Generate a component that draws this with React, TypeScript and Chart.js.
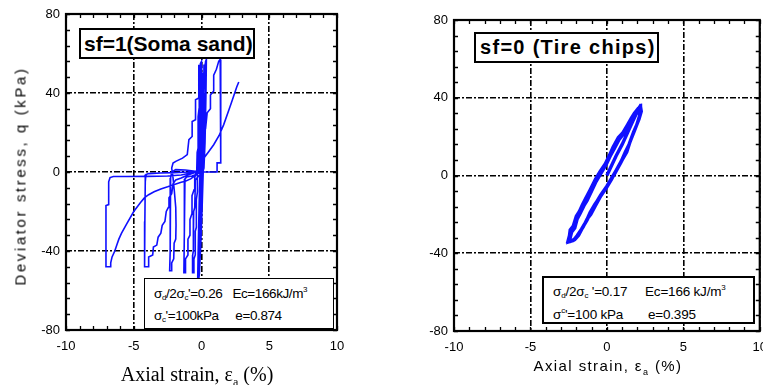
import React, { useEffect, useRef } from 'react';
import { Chart, registerables } from 'chart.js';
Chart.register(...registerables);

// ---- axis ticks ----
const xTickValues = [-10, -5, 0, 5, 10];
const yTickValues = [-80, -40, 0, 40, 80];

// ---- sf=1 (Soma sand): strain (%), deviator stress (kPa), in test order ----
const sandCycles1 = [
  [0, 0], [0.02, 18], [0.06, 38], [0.12, 50], [0.18, 54], [0.2, 54], [0.16, 35], [0.08, 10], [0, -10],
  [-0.08, -30], [-0.15, -46], [-0.22, -53], [-0.28, -54], [-0.24, -38], [-0.16, -12], [-0.06, 12],
  [0.06, 35], [0.18, 50], [0.28, 55], [0.32, 56], [0.28, 38], [0.18, 12], [0.06, -15], [-0.06, -38],
  [-0.16, -52], [-0.22, -55], [-0.18, -35], [-0.08, -5], [0.05, 22], [0.18, 45], [0.3, 56], [0.36, 57],
  [0.33, 40], [0.26, 15], [0.18, 2],
];
const sandCycle2 = [
  [0.05, -1], [-0.2, -2], [-0.45, -4], [-0.5, -18], [-0.58, -20], [-0.6, -40], [-0.65, -42], [-0.66, -51],
  [-0.56, -51], [-0.56, -44], [-0.46, -42], [-0.46, -30], [-0.38, -28], [-0.38, -14], [-0.3, -10],
  [-0.3, 2], [-0.22, 6], [-0.18, 25], [-0.12, 42], [-0.04, 52], [0.02, 54], [0.0, 40], [-0.05, 15], [-0.1, 0],
];
const sandCycle3 = [
  [-0.3, -1], [-0.7, -2], [-1.1, -2.5], [-1.22, -3.5], [-1.25, -10], [-1.28, -30], [-1.3, -51],
  [-1.18, -51], [-1.18, -44], [-1.0, -42], [-1.0, -34], [-0.85, -32], [-0.85, -24], [-0.7, -21],
  [-0.7, -12], [-0.55, -9], [-0.5, -3], [-0.35, 1], [-0.32, 10], [-0.25, 12], [-0.25, 28], [-0.18, 32],
  [-0.14, 48], [-0.08, 55], [0.0, 56], [-0.02, 40], [-0.06, 10], [-0.12, 0],
];
const sandCycle4 = [
  [-0.6, 0.5], [-1.2, 1], [-1.9, 1.2], [-2.2, 0], [-2.28, -3], [-2.3, -20], [-2.32, -40], [-2.35, -50],
  [-2.22, -50], [-2.2, -46], [-2.05, -44], [-2.02, -36], [-1.9, -34], [-1.88, -27], [-1.9, -18],
  [-2.0, -10], [-2.1, -3], [-2.2, 2], [-2.1, 4.5], [-1.9, 5.4], [-1.4, 7], [-1.05, 8.8], [-0.93, 16.4],
  [-0.69, 18], [-0.69, 25.6], [-0.44, 26.5], [-0.44, 36.6], [-0.2, 37.5], [-0.2, 54.3],
  [-0.17, 40], [-0.15, 15], [-0.2, 0.5],
];
const sandCycle5 = [
  [-1.0, 0], [-2.0, -0.3], [-3.0, -0.5], [-3.9, -0.8], [-4.1, -1.3], [-4.15, -5], [-4.18, -25],
  [-4.2, -48], [-3.9, -48], [-3.9, -43], [-3.6, -42], [-3.55, -38], [-3.3, -37], [-3.2, -33], [-3.0, -31],
  [-2.9, -27], [-2.7, -25], [-2.6, -20], [-2.45, -18], [-2.4, -13], [-2.2, -11], [-2.1, -6], [-1.9, -4],
  [-1.5, -3], [-1.0, -1.5], [-0.4, 0], [-0.1, 4], [0.1, 12], [0.17, 18.9], [0.3, 22], [0.42, 30],
  [0.66, 32], [0.66, 39], [0.9, 41], [0.9, 49], [1.1, 52], [1.27, 56], [1.38, 57], [1.42, 57],
  [1.42, 40], [1.42, 20], [1.42, 4.6], [1.15, 4.6], [1.15, 0],
];
const sandCycle6 = [
  [0.5, 0], [-0.2, 0], [-0.8, -0.5], [-1.5, -1.5], [-2.5, -2], [-4, -2.2], [-5.5, -2.3], [-6.5, -2.3],
  [-6.75, -2.8], [-6.85, -5], [-6.85, -16.5], [-7.05, -17], [-7.05, -48], [-6.75, -48],
];
const sandFinalLoading = [
  [-6.7, -46], [-6.6, -43], [-6.4, -40], [-6.25, -37], [-6.1, -34], [-5.9, -31], [-5.5, -26], [-5, -20],
  [-4.5, -15.5], [-4.2, -13], [-3.9, -11.5], [-3.5, -10], [-3, -8.6], [-2.5, -7.5], [-2, -6.3],
  [-1.5, -5.2], [-1.2, -4.7], [-0.8, -3.5], [-0.4, -1.5], [0, 2], [0.17, 7], [0.5, 10], [0.9, 13.8],
  [1.3, 18.5], [1.64, 24], [2.0, 31], [2.25, 36], [2.45, 40], [2.6, 43], [2.75, 45.6],
];

// ---- sf=0 (Tire chips) ----
const tireCycle1 = [
  [0, 0], [0.3, 5], [0.6, 10], [1.0, 16], [1.35, 22], [1.7, 28], [2.0, 33], [2.15, 35], [2.2, 35.3],
  [2.2, 32], [2.0, 27], [1.8, 23], [1.5, 17], [1.3, 12], [1.0, 8], [0.6, 2.5], [0.3, -1.5], [0.0, -5.5],
  [-0.4, -10], [-0.7, -14], [-1.0, -18], [-1.3, -23], [-1.6, -27], [-1.85, -30.7], [-2.1, -33],
  [-2.4, -34], [-2.55, -34],
];
const tireCycle2 = [
  [-2.45, -31], [-2.4, -28], [-2.2, -26], [-2.0, -21], [-1.8, -18.5], [-1.6, -15], [-1.4, -12],
  [-1.1, -7.5], [-0.75, -2], [-0.45, 2], [-0.1, 6], [0.2, 11], [0.4, 14.5], [0.75, 19.5], [1.05, 22],
  [1.35, 26], [1.6, 29.5], [1.8, 32], [2.05, 34.5], [2.2, 35.5], [2.25, 33], [2.1, 29], [1.9, 25],
  [1.7, 21], [1.4, 15], [1.2, 11], [0.9, 6.5], [0.55, 1.5], [0.25, -2.5], [-0.1, -7], [-0.5, -11.5],
  [-0.8, -15], [-1.1, -19], [-1.35, -23.5], [-1.65, -27.5], [-1.95, -31], [-2.2, -33.5], [-2.5, -34.2],
];
const tireCycle3 = [
  [-2.4, -32], [-2.3, -29], [-2.1, -27], [-1.95, -22.5], [-1.75, -19.5], [-1.5, -15.5], [-1.3, -13],
  [-1.0, -8], [-0.7, -3], [-0.4, 1], [-0.05, 5.5], [0.25, 10.5], [0.5, 14], [0.8, 18.5], [1.1, 21.5],
  [1.35, 25], [1.65, 29], [1.9, 32.5], [2.1, 34.8], [2.15, 31], [1.95, 26], [1.75, 22.5], [1.45, 16],
  [1.2, 12], [0.95, 7.5], [0.6, 2.5], [0.3, -2], [0.0, -6], [-0.4, -10.5], [-0.75, -15.5], [-1.05, -20],
  [-1.3, -22.5], [-1.55, -26.5], [-1.8, -29.5], [-2.05, -32.5], [-2.3, -33.5],
];

const toPts = (arrs: number[][][]) => arrs.flat().map(([x, y]) => ({ x, y }));

const framePlugin = {
  id: 'frame',
  afterDatasetsDraw(chart: any, _args: any, opts: any) {
    const { ctx, chartArea: a, scales } = chart;
    const xs = scales.x, ys = scales.y;
    ctx.save();
    ctx.strokeStyle = '#000';
    ctx.lineWidth = 1.3;
    ctx.beginPath();
    for (let v = xs.min; v <= xs.max + 1e-9; v += opts.xMinor) {
      const p = Math.round(xs.getPixelForValue(v)) + 0.5;
      ctx.moveTo(p, a.bottom); ctx.lineTo(p, a.bottom - opts.len);
      ctx.moveTo(p, a.top); ctx.lineTo(p, a.top + opts.len);
    }
    for (let v = ys.min; v <= ys.max + 1e-9; v += opts.yMinor) {
      const p = Math.round(ys.getPixelForValue(v)) + 0.5;
      ctx.moveTo(a.left, p); ctx.lineTo(a.left + opts.len, p);
      ctx.moveTo(a.right, p); ctx.lineTo(a.right - opts.len, p);
    }
    ctx.stroke();
    ctx.lineWidth = 2.2;
    ctx.strokeRect(a.left, a.top, a.right - a.left, a.bottom - a.top);
    ctx.restore();
  },
};

function makeConfig(points: any[], lineWidth: number, yW: number, xH: number, pad: any, tickFont: any) {
  const grid = { color: '#000', lineWidth: 1.6, drawTicks: false };
  const border = { display: false, dash: [6, 2, 2, 2] };
  return {
    type: 'scatter' as const,
    data: {
      datasets: [{
        data: points, showLine: true, borderColor: '#1010ff', borderWidth: lineWidth,
        pointRadius: 0, tension: 0, fill: false,
      }],
    },
    options: {
      responsive: false, animation: false as const,
      layout: { padding: pad },
      plugins: { legend: { display: false }, tooltip: { enabled: false }, frame: { xMinor: 1, yMinor: 8, len: 4 } },
      scales: {
        x: {
          type: 'linear' as const, min: -10, max: 10, grid, border,
          afterBuildTicks: (s: any) => { s.ticks = xTickValues.map((v) => ({ value: v })); },
          afterFit: (s: any) => { s.height = xH; },
          ticks: { color: '#000', font: tickFont, padding: 9, maxRotation: 0, autoSkip: false },
        },
        y: {
          type: 'linear' as const, min: -80, max: 80, grid, border,
          afterBuildTicks: (s: any) => { s.ticks = yTickValues.map((v) => ({ value: v })); },
          afterFit: (s: any) => { s.width = yW; },
          ticks: { color: '#000', font: tickFont, padding: 6, autoSkip: false },
        },
      },
    },
    plugins: [framePlugin],
  };
}

const box: React.CSSProperties = {
  position: 'absolute', boxSizing: 'border-box', background: '#fff', border: '2px solid #000',
  fontFamily: '"Liberation Sans", Arial, sans-serif', color: '#000', whiteSpace: 'nowrap',
};
const subS: React.CSSProperties = { fontSize: 8, lineHeight: 0, verticalAlign: '-2px' };
const supS: React.CSSProperties = { fontSize: 8, lineHeight: 0, verticalAlign: '6px' };
const line = (h: number): React.CSSProperties => ({ height: h, lineHeight: `${h}px`, overflow: 'visible' });

export default function App() {
  const leftRef = useRef<HTMLCanvasElement>(null);
  const rightRef = useRef<HTMLCanvasElement>(null);
  useEffect(() => {
    const font = { family: '"Liberation Sans", Arial, sans-serif', size: 13 };
    const c1 = new Chart(leftRef.current!, makeConfig(
      toPts([sandCycles1, sandCycle2, sandCycle3, sandCycle4, sandCycle5, sandCycle6, sandFinalLoading]),
      1.6, 66, 55, { left: 0, top: 14, right: 43, bottom: 0 }, font) as any);
    const c2 = new Chart(rightRef.current!, makeConfig(
      toPts([tireCycle1, tireCycle2, tireCycle3]),
      3.4, 74, 54, { left: 0, top: 20, right: 12, bottom: 0 }, font) as any);
    return () => { c1.destroy(); c2.destroy(); };
  }, []);

  return (
    <div style={{ position: 'fixed', left: 0, top: 0, width: 763, height: 385, overflow: 'hidden', background: '#fff' }}>
      <canvas ref={leftRef} width={380} height={385} style={{ position: 'absolute', left: 0, top: 0 }} />
      <canvas ref={rightRef} width={396} height={385} style={{ position: 'absolute', left: 380, top: 0 }} />

      {/* left panel texts */}
      <div style={{ ...box, left: 79, top: 28, width: 176, height: 31, fontWeight: 'bold', fontSize: 21, lineHeight: '27px', paddingLeft: 3 }}>
        sf=1(Soma sand)
      </div>
      <div style={{ ...box, left: 144, top: 278, width: 190, height: 51, border: '1.5px solid #000', fontSize: 13.5, paddingLeft: 9, paddingTop: 4, letterSpacing: '-0.4px' }}>
        <div style={line(22)}>σ<sub style={subS}>d</sub>/2σ<sub style={subS}>c</sub>'=0.26&nbsp;&nbsp; Ec=166kJ/m<sup style={supS}>3</sup></div>
        <div style={line(22)}>σ<sub style={subS}>c</sub>'=100kPa&nbsp;&nbsp;&nbsp;&nbsp; e=0.874</div>
      </div>
      <div style={{ position: 'absolute', left: 20, top: 176, transform: 'translate(-50%, -50%) rotate(-90deg)', fontFamily: '"Liberation Sans", Arial, sans-serif', fontSize: 15, letterSpacing: '2.6px', whiteSpace: 'nowrap', color: '#000' }}>
        Deviator stress, q (kPa)
      </div>
      <div style={{ position: 'absolute', left: 197, top: 374, transform: 'translate(-50%, -50%)', fontFamily: '"Liberation Serif", "Times New Roman", serif', fontSize: 20, whiteSpace: 'nowrap', color: '#000' }}>
        Axial strain, ε<sub style={{ fontSize: 12, lineHeight: 0 }}>a</sub> (%)
      </div>

      {/* right panel texts */}
      <div style={{ ...box, left: 474, top: 32, width: 185, height: 31, fontWeight: 'bold', fontSize: 20, lineHeight: '27px', paddingLeft: 4, letterSpacing: '1.3px' }}>
        sf=0 (Tire chips)
      </div>
      <div style={{ ...box, left: 542, top: 276, width: 213, height: 48, fontSize: 13.5, paddingLeft: 9, paddingTop: 2, letterSpacing: '-0.2px' }}>
        <div style={line(23)}>σ<sub style={subS}>d</sub>/2σ<sub style={subS}>c</sub> '=0.17&nbsp;&nbsp;&nbsp;&nbsp; Ec=166 kJ/m<sup style={supS}>3</sup></div>
        <div style={line(23)}>σ<sup style={supS}>c</sup>'=100 kPa&nbsp;&nbsp;&nbsp;&nbsp;&nbsp;&nbsp; e=0.395</div>
      </div>
      <div style={{ position: 'absolute', left: 608, top: 365, transform: 'translate(-50%, -50%)', fontFamily: '"Liberation Sans", Arial, sans-serif', fontSize: 15, letterSpacing: '1.4px', whiteSpace: 'nowrap', color: '#000' }}>
        Axial strain, ε<sub style={{ fontSize: 9, lineHeight: 0 }}>a</sub> (%)
      </div>
    </div>
  );
}
